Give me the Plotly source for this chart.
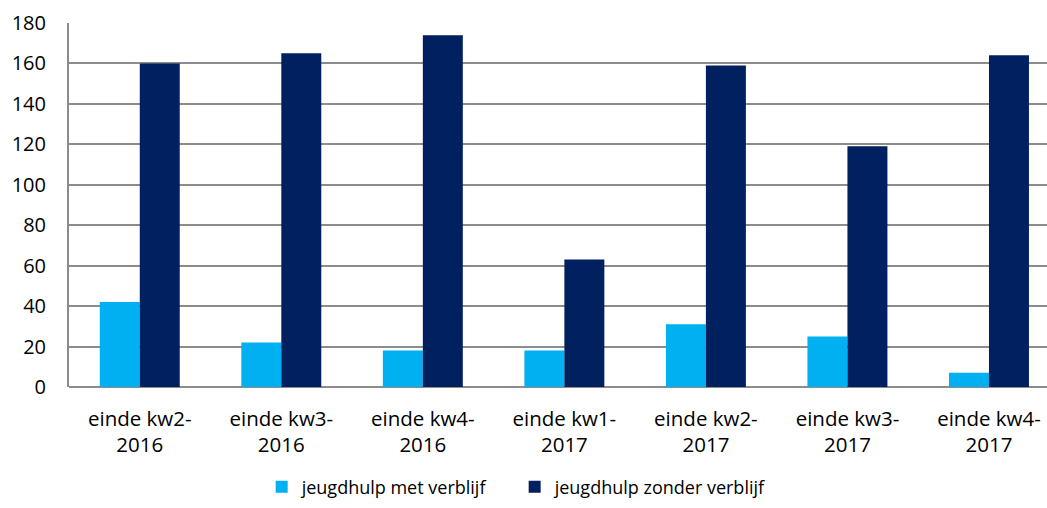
import plotly.graph_objects as go

categories = ["einde kw2-<br>2016", "einde kw3-<br>2016", "einde kw4-<br>2016", "einde kw1-<br>2017",
              "einde kw2-<br>2017", "einde kw3-<br>2017", "einde kw4-<br>2017"]
met_verblijf = [42, 22, 18, 18, 31, 25, 7]
zonder_verblijf = [160, 165, 174, 63, 159, 119, 164]
y_ticks = [0, 20, 40, 60, 80, 100, 120, 140, 160, 180]

font_family = "Open Sans, Noto Sans, Liberation Sans, sans-serif"

fig = go.Figure()
fig.add_trace(go.Bar(x=list(range(len(categories))), y=met_verblijf, name="jeugdhulp met verblijf",
                     marker=dict(color="#00B0F0", line=dict(width=0))))
fig.add_trace(go.Bar(x=list(range(len(categories))), y=zonder_verblijf, name="jeugdhulp zonder verblijf",
                     marker=dict(color="#002060", line=dict(width=0))))

fig.update_layout(
    width=1047, height=508,
    margin=dict(l=69, r=0, t=23, b=121),
    barmode="group", bargap=0.435, bargroupgap=0,
    plot_bgcolor="white", paper_bgcolor="white",
    font=dict(family=font_family, size=20, color="#000000"),
    legend=dict(orientation="h", x=0.197, xanchor="left", y=-0.326, yanchor="bottom",
                font=dict(size=18), itemwidth=30, traceorder="normal",
                entrywidth=208, entrywidthmode="pixels"),
    xaxis=dict(
        tickmode="array", tickvals=list(range(len(categories))), ticktext=categories,
        range=[-0.5, 6.41], showgrid=False, showline=False, ticks="", zeroline=False,
        tickfont=dict(size=20.5), ticklabelstandoff=17, automargin=False,
    ),
    yaxis=dict(
        range=[0, 180], tickmode="array", tickvals=y_ticks,
        showgrid=True, gridcolor="#8C8C8C", gridwidth=2,
        showline=True, linecolor="#8C8C8C", linewidth=2,
        zeroline=True, zerolinecolor="#8C8C8C", zerolinewidth=2,
        ticks="", ticklabelstandoff=17, tickfont=dict(size=20), automargin=False,
    ),
)

fig.write_html("out.html", config={"displayModeBar": False},
               post_script="document.body.style.margin='0';")
